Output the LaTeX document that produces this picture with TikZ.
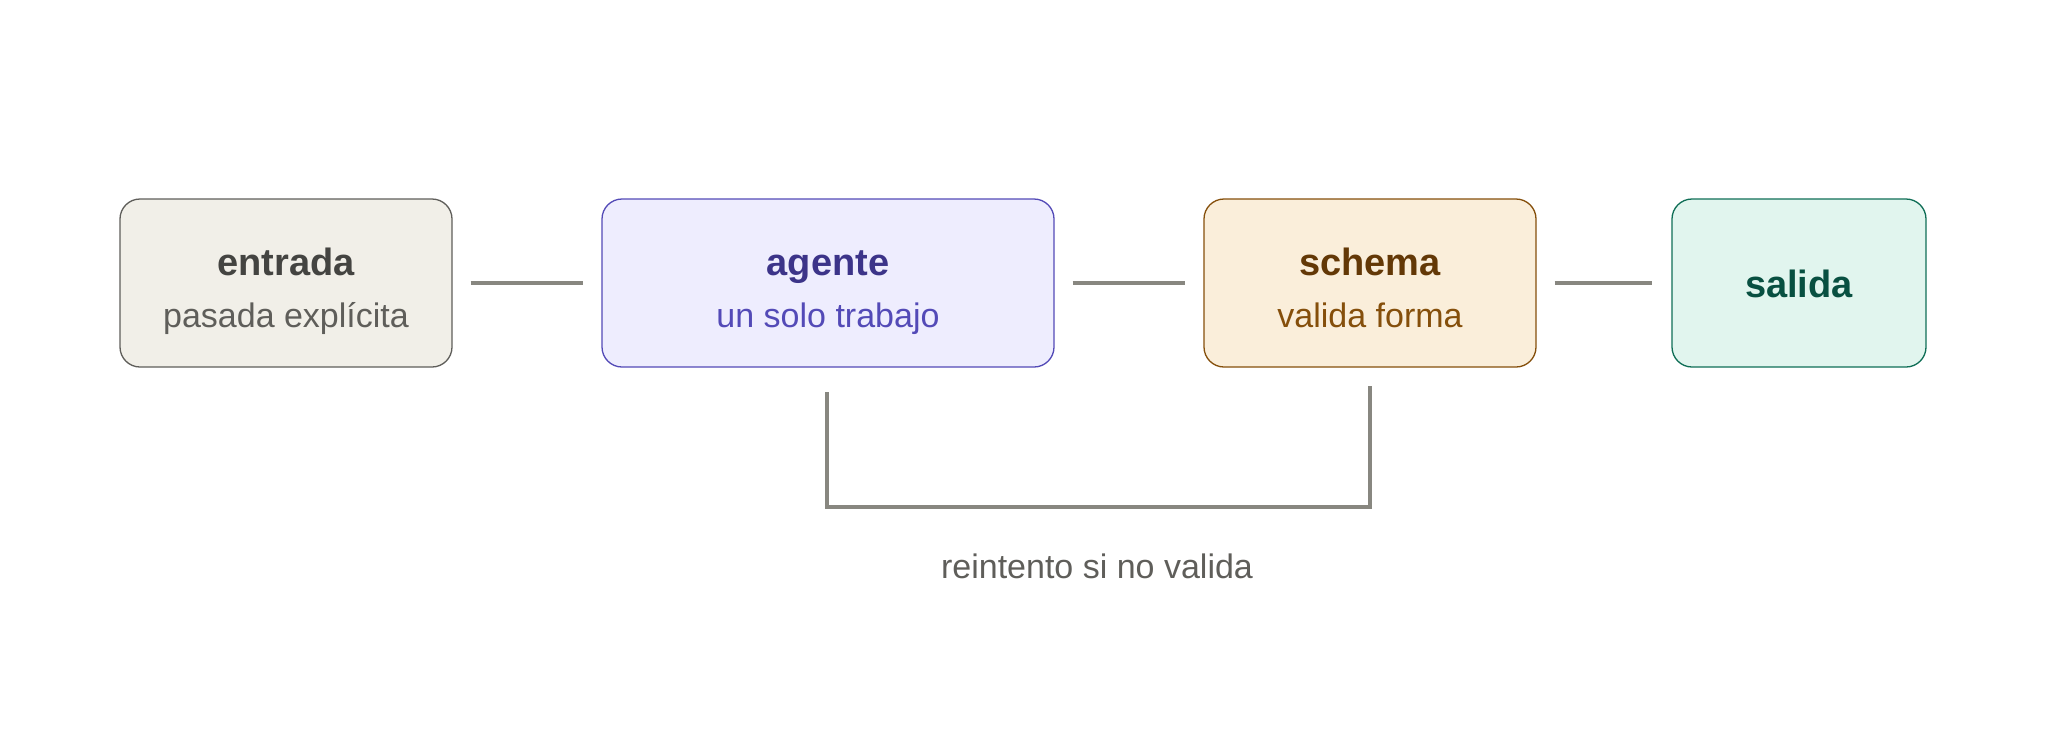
\documentclass[tikz,border=0pt]{standalone}
\usepackage{fontspec}
\setmainfont{Liberation Sans}
\usepackage{xcolor}
\definecolor{grisfill}{HTML}{F1EFE8}
\definecolor{grisdraw}{HTML}{5F5E5A}
\definecolor{gristext}{HTML}{444441}
\definecolor{lilafill}{HTML}{EEEDFE}
\definecolor{liladraw}{HTML}{534AB7}
\definecolor{lilatext}{HTML}{3C3489}
\definecolor{ocrefill}{HTML}{FAEEDA}
\definecolor{ocredraw}{HTML}{854F0B}
\definecolor{ocretext}{HTML}{633806}
\definecolor{verdefill}{HTML}{E1F5EE}
\definecolor{verdedraw}{HTML}{0F6E56}
\definecolor{verdetext}{HTML}{085041}
\definecolor{linea}{HTML}{888780}
\usetikzlibrary{positioning}

\begin{document}
\begin{tikzpicture}[x=1pt,y=-1pt,line width=1.3pt]
            \tikzstyle{caja}=[draw,rounded corners=20pt,minimum height=168pt,inner sep=0pt]
            \tikzstyle{titulo}=[anchor=base,font=\fontsize{38}{44}\selectfont\bfseries]
            \tikzstyle{sub}=[anchor=base,font=\fontsize{34}{40}\selectfont]
            \tikzstyle{con}=[draw=linea,line width=4pt]

            \useasboundingbox (0,0) rectangle (2048,753);

            \node[caja,fill=grisfill,draw=grisdraw,minimum width=332pt] (entrada) at (286,283) {};
            \node[caja,fill=lilafill,draw=liladraw,minimum width=452pt] (agente) at (828,283) {};
            \node[caja,fill=ocrefill,draw=ocredraw,minimum width=332pt] (schema) at (1370,283) {};
            \node[caja,fill=verdefill,draw=verdedraw,minimum width=254pt] (salida) at (1799,283) {};

            \node[titulo,text=gristext] (entradaT) at ([yshift=8pt]entrada.center) {entrada};
            \node[sub,text=grisdraw] (entradaS) at ([yshift=-44pt]entrada.center) {pasada explícita};
            \node[titulo,text=lilatext] (agenteT) at ([yshift=8pt]agente.center) {agente};
            \node[sub,text=liladraw] (agenteS) at ([yshift=-44pt]agente.center) {un solo trabajo};
            \node[titulo,text=ocretext] (schemaT) at ([yshift=8pt]schema.center) {schema};
            \node[sub,text=ocredraw] (schemaS) at ([yshift=-44pt]schema.center) {valida forma};
            \node[titulo,text=verdetext] (salidaT) at ([yshift=-14pt]salida.center) {salida};

            \path[con] ([xshift=18pt]entrada.east) -- ([xshift=-18pt]agente.west);
            \path[con] ([xshift=18pt]agente.east) -- ([xshift=-18pt]schema.west);
            \path[con] ([xshift=18pt]schema.east) -- ([xshift=-19pt]salida.west);

            \coordinate (retA) at (827,392);
            \coordinate (retB) at (1370,386);
            \path[con] (retA) |- (1098,507) -| (retB);

            \node[sub,text=grisdraw] (reintento) at (1097,578) {reintento si no valida};
        \end{tikzpicture}
\end{document}
